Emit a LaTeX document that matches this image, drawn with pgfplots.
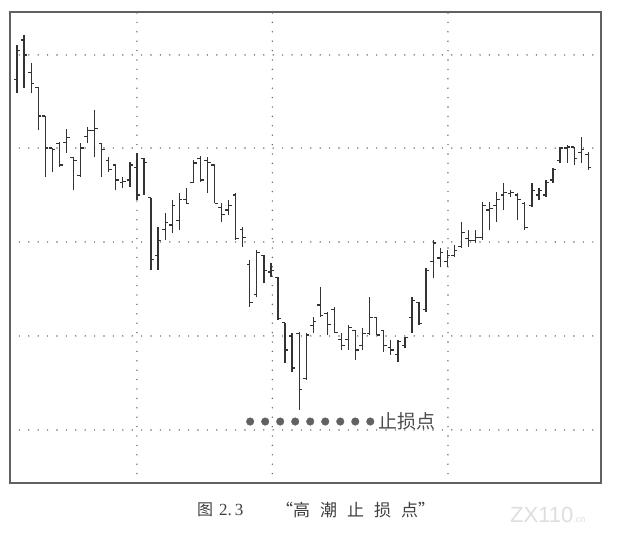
\documentclass[border=0pt]{standalone}
\usepackage{pgfplots}
\pgfplotsset{compat=1.18}
\usepackage{pgfplotstable}
\usepackage{fontspec}
\setmainfont{Liberation Serif}
\newfontfamily\cjk{Noto Sans CJK SC}
\newfontfamily\wm{Liberation Sans}

% bar index, high, low, open, close
\pgfplotstableread{
i  h    l    o    c
0  51.0 45.9 47.3 50.4
1  52.0 46.4 51.5 49.9
2  49.0 45.9 48.0 46.9
3  46.5 41.9 46.4 43.4
4  43.4 36.9 43.4 40.0
5  40.0 37.4 40.0 39.8
6  40.6 38.0 40.5 38.2
7  42.0 39.5 40.6 41.1
8  39.0 35.5 39.0 38.7
9  40.5 36.9 37.1 40.0
10 42.2 40.5 41.2 41.9
11 44.0 39.0 41.9 42.1
12 40.5 36.9 40.5 39.8
13 39.0 37.4 38.7 37.7
14 38.2 35.5 38.2 36.6
15 36.9 35.7 36.3 36.4
16 38.5 35.9 36.6 38.2
17 39.5 34.5 37.9 35.0
18 38.9 35.0 38.9 38.5
19 34.7 27.0 34.7 28.1
20 31.6 27.0 28.6 30.2
21 33.1 30.2 31.3 32.1
22 34.5 31.0 31.8 33.9
23 35.2 31.3 32.3 34.5
24 35.7 34.1 34.5 34.1
25 38.7 36.3 36.3 38.4
26 39.2 36.4 38.9 36.6
27 39.0 35.2 38.7 38.5
28 38.2 34.1 38.2 34.1
29 34.1 32.1 33.7 32.9
30 34.5 32.9 33.4 33.9
31 35.2 30.2 35.0 30.4
32 31.6 29.5 31.3 30.5
33 28.1 23.1 27.6 23.6
34 29.1 24.1 24.4 28.9
35 28.6 25.6 28.6 27.0
36 27.8 26.3 26.8 27.0
37 26.3 21.7 26.2 21.9
38 21.4 17.1 21.4 18.5
39 20.3 16.2 20.0 16.6
40 20.4 12.1 20.3 14.3
41 20.3 15.3 15.5 20.1
42 22.0 20.3 21.1 21.5
43 25.2 22.0 23.3 22.2
44 22.6 20.1 22.4 21.2
45 23.1 20.3 22.8 20.4
46 20.3 18.5 19.6 19.0
47 21.2 18.5 19.6 20.9
48 20.6 17.4 20.6 18.5
49 20.9 18.5 19.0 20.3
50 24.1 20.1 20.3 22.0
51 22.0 20.1 22.0 20.1
52 20.6 18.3 20.6 19.0
53 19.6 18.0 18.8 18.5
54 19.6 17.2 18.0 19.4
55 19.9 18.7 19.0 19.8
56 24.1 20.3 22.0 23.8
57 23.6 21.2 23.6 21.3
58 27.2 22.6 22.8 27.0
59 30.2 26.2 27.9 29.9
60 29.4 27.3 28.3 28.9
61 29.1 27.3 27.9 28.6
62 29.7 28.4 28.6 29.1
63 32.1 29.4 29.5 31.0
64 31.3 29.5 30.4 30.2
65 31.3 29.9 30.2 30.5
66 34.3 30.2 30.5 33.9
67 34.3 31.3 33.4 33.6
68 35.3 32.1 33.9 34.5
69 36.3 33.4 35.0 35.3
70 35.5 34.8 35.2 35.3
71 35.2 32.3 35.0 34.5
72 34.3 31.3 34.1 31.5
73 36.3 33.7 33.9 35.5
74 35.7 34.5 35.0 35.5
75 36.6 34.8 35.0 36.3
76 37.9 36.3 36.6 37.7
77 40.1 38.4 38.7 40.0
78 40.3 38.4 40.0 40.1
79 40.1 38.2 40.1 38.9
80 41.2 38.4 39.5 39.8
81 39.6 37.7 39.3 37.9
}\bars

% stop-loss dots
\pgfplotstableread{
x     y
33.05 10.9
35.18 10.9
37.31 10.9
39.44 10.9
41.57 10.9
43.70 10.9
45.83 10.9
47.96 10.9
50.09 10.9
}\stops

\colorlet{barc}{black!80}

\begin{document}
\begin{tikzpicture}
\path[use as bounding box] (0,0) rectangle (619pt,535pt);
\begin{axis}[
  at={(10pt,52pt)}, anchor=south west,
  width=591pt, height=471pt, scale only axis,
  xmin=-1.0, xmax=82.8, ymin=4.36, ymax=54.47,
  xtick={17,36.2,61.1}, ytick={10,20,30,40,49.9},
  xticklabels={}, yticklabels={},
  tick style={draw=none},
  xmajorgrids, ymajorgrids,
  grid style={black!58, line width=1.6pt, dash pattern=on 0pt off 9.4pt, line cap=round},
  axis line style={black!62, line width=1.4pt},
  ohlc/.style={draw=none, mark=none, forget plot},
]
% high-low
\addplot[ohlc, error bars/.cd, y dir=plus, y explicit,
  error mark=none, error bar style={draw=barc, line width=1.25pt}]
  table[x=i, y=l, y error expr=\thisrow{h}-\thisrow{l}] {\bars};
% open ticks
\addplot[ohlc, error bars/.cd, x dir=minus, x fixed=0.45,
  error mark=none, error bar style={draw=barc, line width=1.2pt}]
  table[x=i, y=o] {\bars};
% close ticks
\addplot[ohlc, error bars/.cd, x dir=plus, x fixed=0.45,
  error mark=none, error bar style={draw=barc, line width=1.2pt}]
  table[x=i, y=c] {\bars};
% stop-loss row
\addplot[only marks, mark=*, mark size=3.8pt, color=black!62] table[x=x, y=y] {\stops};
\node[anchor=west, inner sep=0pt, text=black!70, font=\cjk\fontsize{19}{19}\selectfont]
  at (axis cs:51.2,10.9) {止损点};
\end{axis}
\node[anchor=west, inner sep=0pt, text=black!75] at (197pt,25pt)
  {{\cjk\fontsize{16}{16}\selectfont 图}\hspace{6pt}{\fontsize{17}{17}\selectfont 2.\,3}};
\node[anchor=west, inner sep=0pt, text=black!75, font=\cjk\fontsize{17}{17}\selectfont] at (276pt,25pt)
  {“高\hspace{10pt}潮\hspace{10pt}止\hspace{10pt}损\hspace{10pt}点”};
\node[anchor=west, inner sep=0pt, text=black!13, font=\wm\fontsize{22}{22}\selectfont] at (510pt,20pt)
  {ZX110{\fontsize{9}{9}\selectfont .cn}};
\end{tikzpicture}
\end{document}
